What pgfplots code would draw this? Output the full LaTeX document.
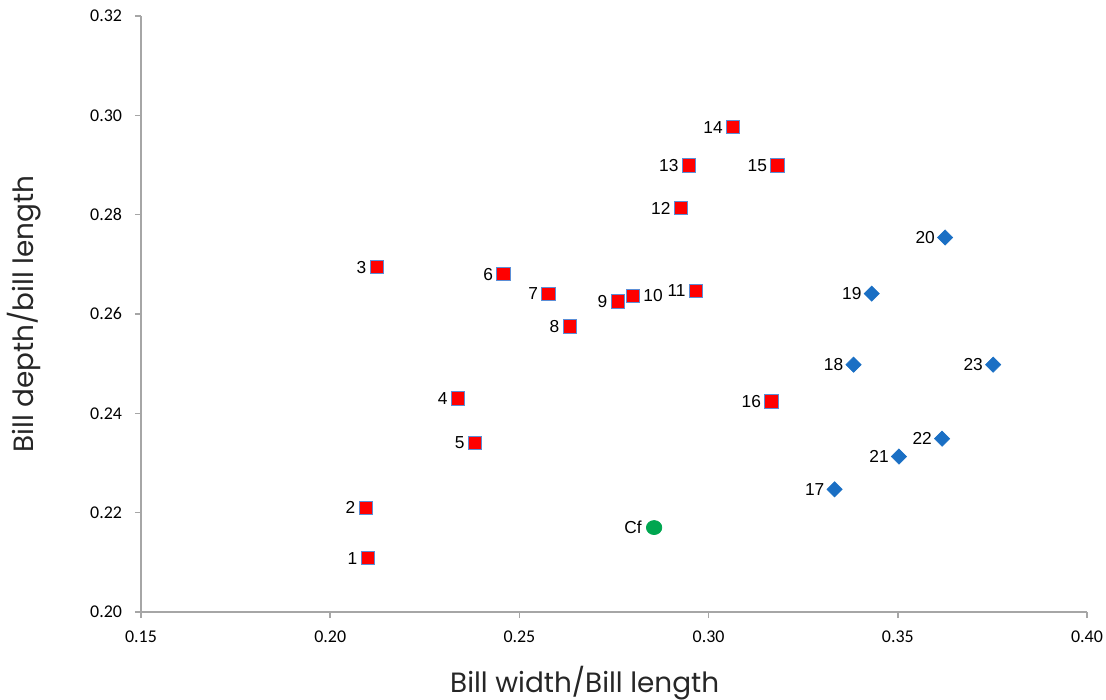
\documentclass[border=0pt]{standalone}
\usepackage{pgfplots}
\pgfplotsset{compat=1.18}
\usepackage{fontspec}
\setmainfont{Liberation Sans}
\newfontfamily\tickfont{Carlito}
\newfontfamily\titlefont{Poppins}
\definecolor{sqred}{HTML}{FF0000}
\definecolor{sqedge}{HTML}{5B8ED6}
\definecolor{diablue}{HTML}{1A6FC4}
\definecolor{cfgreen}{HTML}{00A650}
\definecolor{axgray}{HTML}{A6A6A6}

\pgfplotstableread{
x y label
0.2099 0.2108 1
0.2094 0.2210 2
0.2123 0.2694 3
0.2338 0.2430 4
0.2383 0.2341 5
0.2458 0.2680 6
0.2577 0.2641 7
0.2633 0.2575 8
0.2760 0.2625 9
0.2967 0.2647 11
0.2927 0.2813 12
0.2948 0.2899 13
0.3065 0.2976 14
0.3182 0.2899 15
0.3166 0.2424 16
}\redleft

\pgfplotstableread{
x y label
0.2800 0.2637 10
}\redright

\pgfplotstableread{
x y label
0.3333 0.2247 17
0.3383 0.2498 18
0.3431 0.2641 19
0.3625 0.2754 20
0.3503 0.2313 21
0.3617 0.2349 22
0.3752 0.2498 23
}\blue

\pgfplotstableread{
x y label
0.2856 0.2170 Cf
}\green

\begin{document}
\begin{tikzpicture}
\path[use as bounding box] (0,0) rectangle (553bp,350bp);
\begin{axis}[
  at={(70.5bp,44bp)}, anchor=south west,
  scale only axis, width=473bp, height=298bp,
  xmin=0.15, xmax=0.40, ymin=0.20, ymax=0.32,
  axis x line*=bottom, axis y line*=left,
  axis line style={axgray, line width=0.9bp, -},
  tick style={axgray, line width=0.8bp},
  tick align=outside, major tick length=3bp,
  xtick={0.15,0.20,0.25,0.30,0.35,0.40},
  ytick={0.20,0.22,0.24,0.26,0.28,0.30,0.32},
  minor tick num=0,
  /pgf/number format/.cd, fixed, fixed zerofill, precision=2, assume math mode=true,
  /pgfplots/.cd,
  ticklabel style={font=\tickfont\fontsize{9}{9}\selectfont, text=black},
  xticklabel style={yshift=-3bp},
  yticklabel style={xshift=-3bp},
  xlabel={Bill width/Bill length},
  ylabel={Bill depth/bill length},
  xlabel style={font=\titlefont\fontsize{14}{14}\selectfont, text=black!85,
     at={(axis description cs:0.469,0)}, anchor=base, yshift=-40bp},
  ylabel style={font=\titlefont\fontsize{14}{14}\selectfont, text=black!85,
     at={(axis description cs:-0.098,0.5)}, anchor=south},
  clip=false,
  point meta=explicit symbolic,
  nodes near coords,
  nodes near coords style={font=\fontsize{8.7}{8.7}\selectfont, text=black, inner sep=0pt, anchor=east, xshift=-5bp},
]
\addplot[only marks, mark=square*, mark size=3.3bp, mark options={fill=sqred, draw=sqedge, line width=0.5bp}]
  table[x=x, y=y, meta=label] {\redleft};
\addplot[only marks, mark=square*, mark size=3.3bp, mark options={fill=sqred, draw=sqedge, line width=0.5bp},
  nodes near coords style={anchor=west, xshift=10bp}]
  table[x=x, y=y, meta=label] {\redright};
\addplot[only marks, mark=square*, mark size=2.7bp, mark options={fill=diablue, draw=diablue, line width=0.3bp, rotate=45}]
  table[x=x, y=y, meta=label] {\blue};
\addplot[only marks, mark=*, mark size=3.5bp, mark options={fill=cfgreen, draw=cfgreen, xscale=1.1},
  nodes near coords style={xshift=-1bp}]
  table[x=x, y=y, meta=label] {\green};
\end{axis}
\end{tikzpicture}
\end{document}
